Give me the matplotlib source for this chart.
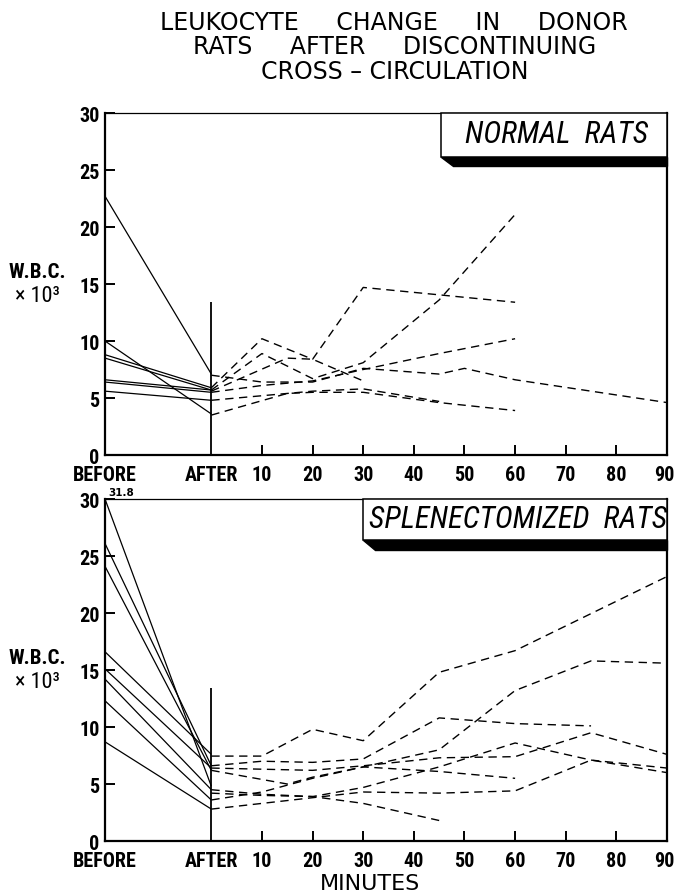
"""Leukocyte change in donor rats after discontinuing cross-circulation."""
import os

import matplotlib

matplotlib.use("Agg")
import matplotlib.pyplot as plt
import matplotlib.transforms as mtransforms
from matplotlib import font_manager
from matplotlib.font_manager import FontProperties
from matplotlib.patches import Polygon, Rectangle

# x position of the BEFORE column on the minutes scale (AFTER = 0)
BEFORE_X = -21
AFTER_BAR_TOP = 13.4
X_TICKS = [BEFORE_X, 0, 10, 20, 30, 40, 50, 60, 70, 80, 90]
X_LABELS = ["BEFORE", "AFTER", "10", "20", "30", "40", "50", "60", "70", "80", "90"]
Y_TICKS = [0, 5, 10, 15, 20, 25, 30]

# --- Normal rats -------------------------------------------------------------
normal_before = [22.7, 10.0, 8.8, 8.5, 6.6, 6.4, 5.6]
normal_after = [7.1, 3.6, 5.9, 5.7, 5.7, 5.5, 4.8]
normal_minutes = [
    [0, 10, 20, 30, 60],
    [0, 10, 20, 30, 45, 60],
    [0, 15, 20, 30],
    [0, 10, 20, 30, 45, 50, 60, 75, 90],
    [0, 10, 20, 30, 45, 60],
    [0, 10, 20, 30, 45],
    [0, 15, 20, 30, 45, 60],
]
normal_wbc = [
    [5.9, 10.2, 8.4, 14.7, 13.4],
    [5.7, 8.9, 6.7, 8.1, 13.6, 21.1],
    [5.6, 8.5, 8.4, 6.5],
    [7.0, 6.4, 6.4, 7.6, 7.1, 7.6, 6.6, 5.6, 4.6],
    [5.5, 6.1, 6.5, 7.5, 8.9, 10.2],
    [4.8, 5.2, 5.6, 5.8, 4.7],
    [3.5, 5.4, 5.5, 5.5, 4.6, 3.9],
]

# --- Splenectomized rats -----------------------------------------------------
spl_before = [31.8, 26.1, 24.1, 16.6, 15.1, 14.2, 12.3, 8.7]
spl_after = [4.8, 6.6, 6.2, 7.6, 6.4, 4.5, 3.6, 2.8]
spl_minutes = [
    [0, 10, 20, 30, 45, 60, 90],
    [0, 15, 20, 30, 45, 60, 75, 90],
    [0, 10, 20, 30, 45, 60, 75],
    [0, 10, 20, 30, 45, 60, 75, 90],
    [0, 10, 20, 30, 45, 60, 75, 90],
    [0, 10, 20, 30, 45, 60, 75, 90],
    [0, 10, 20, 30, 45, 60],
    [0, 10, 20, 30, 45],
]
spl_wbc = [
    [7.45, 7.45, 9.8, 8.8, 14.8, 16.7, 23.2],
    [6.2, 5.0, 5.6, 6.5, 8.0, 13.2, 15.8, 15.6],
    [6.6, 7.0, 6.9, 7.2, 10.8, 10.3, 10.1],
    [6.4, 6.3, 6.2, 6.6, 7.3, 7.4, 9.5, 7.6],
    [2.8, 3.3, 3.8, 4.3, 4.2, 4.4, 7.1, 6.0],
    [4.2, 4.0, 3.9, 4.7, 6.5, 8.6, 7.1, 6.4],
    [3.6, 4.3, 5.5, 6.5, 6.1, 5.5],
    [4.5, 4.1, 3.9, 3.3, 1.8],
]

WIDE = "DejaVu Sans"
PREFERRED = ["liberation sans narrow", "roboto condensed", "dejavu sans condensed"]


def find_condensed(bold, italic):
    """Return the file of an installed narrow sans face, or None."""
    best = None
    for f in font_manager.fontManager.ttflist:
        tag = (f.name + " " + os.path.basename(f.fname)).lower()
        narrow = any(k in tag for k in ("narrow", "condensed"))
        if not narrow and f.stretch not in ("condensed", "semi-condensed",
                                            "extra-condensed"):
            continue
        if "mono" in tag:
            continue
        w = f.weight if isinstance(f.weight, int) else \
            font_manager.weight_dict.get(f.weight, 400)
        score = 4 * ((w >= 600) == bold) + 4 * ((f.style != "normal") == italic)
        for i, pref in enumerate(PREFERRED):
            if pref in tag:
                score += 3 - i
        if best is None or score > best[0]:
            best = (score, f.fname)
    return best[1] if best else None


COND_BOLD = find_condensed(True, False)
COND_REG = find_condensed(False, False)
COND_ITAL = find_condensed(False, True)


def narrow_font(size, bold=False, italic=False):
    path = COND_ITAL if italic else (COND_BOLD if bold else COND_REG)
    if path:
        return FontProperties(fname=path, size=size)
    return FontProperties(family=WIDE, size=size * 0.85,
                          weight="bold" if bold else "normal",
                          style="italic" if italic else "normal")


def draw_label_box(ax, text, x0, y_bot, shadow_bot, shadow_x0, size):
    # white label box hanging from the top spine, with a heavy drop shadow
    shadow = Polygon(
        [(x0, y_bot), (1.0, y_bot), (1.0, shadow_bot), (shadow_x0, shadow_bot)],
        closed=True, transform=ax.transAxes, facecolor="black",
        edgecolor="black", zorder=5, clip_on=False,
    )
    box = Rectangle(
        (x0, y_bot), 1.0 - x0, 1.0 - y_bot, transform=ax.transAxes,
        facecolor="white", edgecolor="black", linewidth=1.1, zorder=6,
        clip_on=False,
    )
    ax.add_patch(shadow)
    ax.add_patch(box)
    ax.text((x0 + 1.0) / 2 + 0.005, (y_bot + 1.0) / 2 + 0.004, text,
            transform=ax.transAxes, ha="center", va="center",
            fontproperties=narrow_font(size, italic=True), zorder=7)


def draw_panel(ax, before, after, minutes, wbc, label, box_geom, box_size):
    ax.set_xlim(BEFORE_X, 90)
    ax.set_ylim(0, 30)

    for b, a in zip(before, after):
        ax.plot([BEFORE_X, 0], [min(b, 30), a], color="black", linewidth=0.9,
                solid_capstyle="butt")
    for t, v in zip(minutes, wbc):
        ax.plot(t, v, color="black", linewidth=1.0, dashes=(6, 4))

    ax.vlines(0, 0, AFTER_BAR_TOP, color="black", linewidth=1.3)

    for side in ("left", "bottom", "right"):
        ax.spines[side].set_linewidth(1.6)
    ax.spines["top"].set_linewidth(0.9)

    ax.set_yticks(Y_TICKS)
    ax.set_xticks(X_TICKS)
    ax.set_xticklabels(X_LABELS)
    ax.tick_params(axis="y", direction="in", length=7, width=1.4, pad=4)
    ax.tick_params(axis="x", direction="in", length=7, width=1.4, pad=7)
    for tick in ax.xaxis.get_major_ticks()[:2]:
        tick.tick1line.set_visible(False)
    for lbl in ax.get_xticklabels() + ax.get_yticklabels():
        lbl.set_fontproperties(narrow_font(14.5, bold=True))
    # keep the last minute label inside the picture
    last = ax.get_xticklabels()[-1]
    last.set_transform(last.get_transform() + mtransforms.ScaledTranslation(
        -3 / 100, 0, ax.figure.dpi_scale_trans))

    trans = mtransforms.blended_transform_factory(ax.transAxes, ax.transData)
    ax.text(-0.121, 15.3, "W.B.C.", transform=trans, ha="center", va="bottom",
            fontproperties=narrow_font(15, bold=True))
    ax.text(-0.121, 14.9, "× 10³", transform=trans, ha="center", va="top",
            fontproperties=narrow_font(16))

    draw_label_box(ax, label, *box_geom, box_size)


def main() -> None:
    fig = plt.figure(figsize=(6.74, 8.95), dpi=100)
    ax_top = fig.add_axes([0.1558, 0.4905, 0.8338, 0.3821])
    ax_bot = fig.add_axes([0.1558, 0.0592, 0.8338, 0.3821])

    draw_panel(ax_top, normal_before, normal_after, normal_minutes, normal_wbc,
               "NORMAL  RATS", (0.598, 0.871, 0.845, 0.619), 22)
    draw_panel(ax_bot, spl_before, spl_after, spl_minutes, spl_wbc,
               "SPLENECTOMIZED  RATS", (0.459, 0.879, 0.851, 0.480), 22)

    ax_bot.text(BEFORE_X + 0.6, 30.2, f"{max(spl_before):.1f}", ha="left",
                va="bottom", fontsize=7.5, fontweight="bold", family=WIDE)

    fig.text(0.585, 0.988,
             "LEUKOCYTE     CHANGE     IN     DONOR\n"
             "RATS     AFTER     DISCONTINUING\n"
             "CROSS – CIRCULATION",
             ha="center", va="top", fontsize=17, family=WIDE,
             linespacing=1.04)
    fig.text(0.549, 0.001, "MINUTES", ha="center", va="bottom", fontsize=16,
             family=WIDE)

    fig.savefig("out.png", dpi=100, facecolor="white")
    plt.close(fig)


if __name__ == "__main__":
    main()
